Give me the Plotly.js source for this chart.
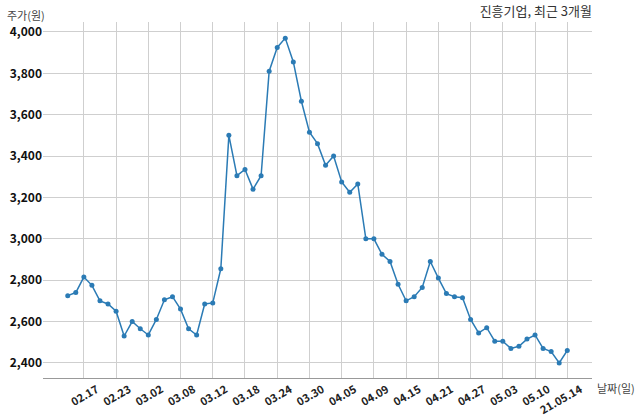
<!DOCTYPE html>
<html>
<head>
<meta charset="utf-8">
<script src="https://cdn.plot.ly/plotly-3.0.1.min.js"></script>
<style>html,body{margin:0;padding:0;background:#fff}#chart{width:640px;height:419px}</style>
</head>
<body>
<div id="chart"></div>
<script>
const dates = ["02.15","02.16","02.17","02.18","02.19","02.22","02.23","02.24","02.25","02.26",
  "03.02","03.03","03.04","03.05","03.08","03.09","03.10","03.11","03.12","03.15",
  "03.16","03.17","03.18","03.19","03.22","03.23","03.24","03.25","03.26","03.29",
  "03.30","03.31","04.01","04.02","04.05","04.06","04.07","04.08","04.09","04.12",
  "04.13","04.14","04.15","04.16","04.19","04.20","04.21","04.22","04.23","04.26",
  "04.27","04.28","04.29","04.30","05.03","05.04","05.06","05.07","05.10","05.11",
  "05.12","05.13","05.14"];
const prices = [2725,2740,2815,2775,2700,2685,2650,2530,2600,2565,
  2535,2610,2705,2720,2660,2565,2535,2685,2690,2855,
  3500,3305,3335,3240,3305,3810,3925,3970,3855,3665,
  3515,3460,3355,3400,3275,3225,3265,3000,3000,2925,
  2890,2780,2700,2720,2765,2890,2810,2735,2720,2715,
  2610,2545,2570,2505,2505,2470,2480,2515,2535,2470,
  2455,2400,2460];
const tickDates = ["02.17","02.23","03.02","03.08","03.12","03.18","03.24","03.30","04.05","04.09","04.15","04.21","04.27","05.03","05.10","05.14"];
const tickLabels = ["02.17","02.23","03.02","03.08","03.12","03.18","03.24","03.30","04.05","04.09","04.15","04.21","04.27","05.03","05.10","21.05.14"];
const yTicks = [2400,2600,2800,3000,3200,3400,3600,3800,4000];
const titleText = "진흥기업, 최근 3개월";
const yLabel = "주가(원)";
const xLabel = "날짜(일)";

const FONT = "'Noto Sans CJK KR', 'Noto Sans', sans-serif";
const col = "#2b7bb5";

Plotly.newPlot("chart", [{
  x: dates, y: prices, type: "scatter", mode: "lines+markers",
  line: {color: col, width: 1.5},
  marker: {color: col, size: 5},
  hoverinfo: "skip"
}], {
  width: 640, height: 419,
  margin: {l: 43, r: 48, t: 22, b: 41},
  paper_bgcolor: "#fff", plot_bgcolor: "#fff",
  font: {family: FONT, color: "#222"},
  showlegend: false,
  title: {text: titleText, font: {family: FONT, size: 13, color: "#333"},
    xref: "paper", x: 1, xanchor: "right", yref: "container", y: 0.972, yanchor: "middle"},
  xaxis: {
    type: "category", categoryorder: "array", categoryarray: dates,
    range: [-3.07, 65.07],
    tickmode: "array", tickvals: tickDates, ticktext: tickLabels,
    tickangle: -30, ticklabelshift: 13, ticklabelstandoff: 0,
    tickfont: {family: FONT, size: 11, color: "#222", weight: "bold"},
    showgrid: true, gridcolor: "#cfcfcf", gridwidth: 1,
    showline: true, linecolor: "#999", linewidth: 1,
    ticks: "", zeroline: false
  },
  yaxis: {
    range: [2327, 4048],
    tickmode: "array", tickvals: yTicks, tickformat: ",",
    tickfont: {family: FONT, size: 12, color: "#111", weight: "bold"},
    showgrid: true, gridcolor: "#cfcfcf", gridwidth: 1,
    showline: false, ticks: "", zeroline: false
  },
  annotations: [
    {text: yLabel, xref: "paper", yref: "paper", x: 0, y: 1, xanchor: "center", yanchor: "middle",
     xshift: -17, yshift: 7, showarrow: false, font: {family: FONT, size: 11, color: "#444"}},
    {text: xLabel, xref: "paper", yref: "paper", x: 1, y: 0, xanchor: "left", yanchor: "middle",
     xshift: 3, yshift: -10, showarrow: false, font: {family: FONT, size: 11, color: "#444"}}
  ]
}, {displayModeBar: false, staticPlot: true});
</script>
</body>
</html>
